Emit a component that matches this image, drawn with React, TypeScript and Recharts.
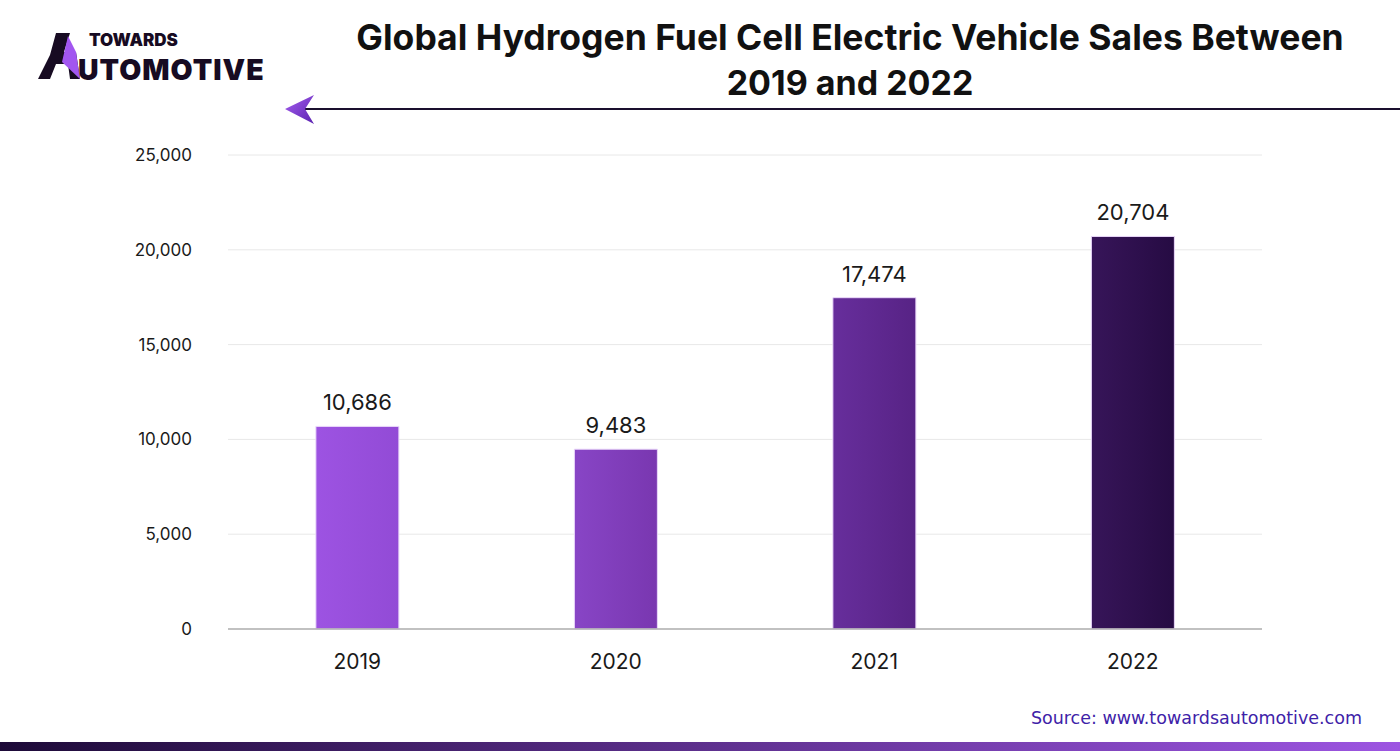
import React from "react";
import { BarChart, Bar, XAxis, YAxis, CartesianGrid, LabelList, Cell } from "recharts";

const years = ["2019", "2020", "2021", "2022"];
const sales = [10686, 9483, 17474, 20704];
const yTicks = [0, 5000, 10000, 15000, 20000, 25000];
const barColors: [string, string][] = [
  ["#9d53e2", "#924bd6"],
  ["#8845c6", "#7937b0"],
  ["#672e9c", "#572385"],
  ["#371559", "#260b43"],
];

const data = years.map((year, i) => ({ year, sales: sales[i] }));

const fmt = (v: number) => v.toLocaleString("en-US");

function Logo() {
  return (
    <svg width={300} height={90} style={{ position: "absolute", left: 0, top: 0 }}>
      <polygon points="38,79 50,55 56,33 70,33 64,52 76,52 80,79 70,79 68,64 56,64 50,79" fill="#170b22" />
      <polygon points="68,36 76,52 80,79 62,62" fill="#a256f0" />
      <text x={89} y={46} fontFamily="Inter, sans-serif" fontWeight={900} fontSize={17} fill="#170b22">
        TOWARDS
      </text>
      <text x={78} y={80} fontFamily="Inter, sans-serif" fontWeight={900} fontSize={28.5} fill="#170b22" letterSpacing={1}>
        UTOMOTIVE
      </text>
    </svg>
  );
}

function Decorations() {
  return (
    <svg width={1400} height={751} style={{ position: "absolute", left: 0, top: 0, pointerEvents: "none" }}>
      <defs>
        <linearGradient id="arrowGrad" x1="0" y1="0" x2="1" y2="1">
          <stop offset="0%" stopColor="#a65ef0" />
          <stop offset="100%" stopColor="#5a22b0" />
        </linearGradient>
        <linearGradient id="bandGrad" x1="0" y1="0" x2="1" y2="0">
          <stop offset="0%" stopColor="#1d0a38" />
          <stop offset="100%" stopColor="#9d55e2" />
        </linearGradient>
      </defs>
      <text x={850} y={50} textAnchor="middle" fontFamily="Inter, sans-serif" fontWeight={700} fontSize={35.5} fill="#111">
        Global Hydrogen Fuel Cell Electric Vehicle Sales Between
      </text>
      <text x={850} y={95} textAnchor="middle" fontFamily="Inter, sans-serif" fontWeight={700} fontSize={34} fill="#111">
        2019 and 2022
      </text>
      <line x1={305} y1={109} x2={1400} y2={109} stroke="#1a0f2e" strokeWidth={2} />
      <polygon points="285,109 314,95 305,109 314,124" fill="url(#arrowGrad)" />
      <text x={1362} y={724} textAnchor="end" fontFamily="'DejaVu Sans', sans-serif" fontSize={17.5} fill="#3e22a8">
        Source: www.towardsautomotive.com
      </text>
      <rect x={0} y={742} width={1400} height={9} fill="url(#bandGrad)" />
    </svg>
  );
}

export default function App() {
  return (
    <div style={{ position: "absolute", left: 0, top: 0, width: 1400, height: 751, background: "#fff", fontFamily: "Inter, sans-serif" }}>
      <BarChart
        width={1400}
        height={751}
        data={data}
        margin={{ top: 155, right: 138, bottom: 92, left: 128 }}
        barCategoryGap="34%"
      >
        <defs>
          {barColors.map(([a, b], i) => (
            <linearGradient key={i} id={`bar${i}`} x1="0" y1="0" x2="1" y2="0">
              <stop offset="0%" stopColor={a} />
              <stop offset="100%" stopColor={b} />
            </linearGradient>
          ))}
        </defs>
        <CartesianGrid vertical={false} stroke="#e8e8e8" />
        <XAxis
          dataKey="year"
          axisLine={{ stroke: "#b0b0b0", strokeWidth: 1.5 }}
          tickLine={false}
          tickMargin={19}
          tick={{ fontSize: 21, fill: "#1a1a1a" }}
        />
        <YAxis
          width={100}
          domain={[0, 25000]}
          ticks={yTicks}
          tickFormatter={fmt}
          axisLine={false}
          tickLine={false}
          tickMargin={30}
          tick={{ fontSize: 17, fill: "#1a1a1a" }}
        />
        <Bar dataKey="sales" isAnimationActive={false} stroke="#ead8fa" strokeWidth={1}>
          {data.map((_, i) => (
            <Cell key={i} fill={`url(#bar${i})`} />
          ))}
          <LabelList dataKey="sales" position="top" offset={16} formatter={(v: any) => fmt(Number(v))} style={{ fontSize: 22, fill: "#1a1a1a" }} />
        </Bar>
      </BarChart>
      <Decorations />
      <Logo />
    </div>
  );
}
